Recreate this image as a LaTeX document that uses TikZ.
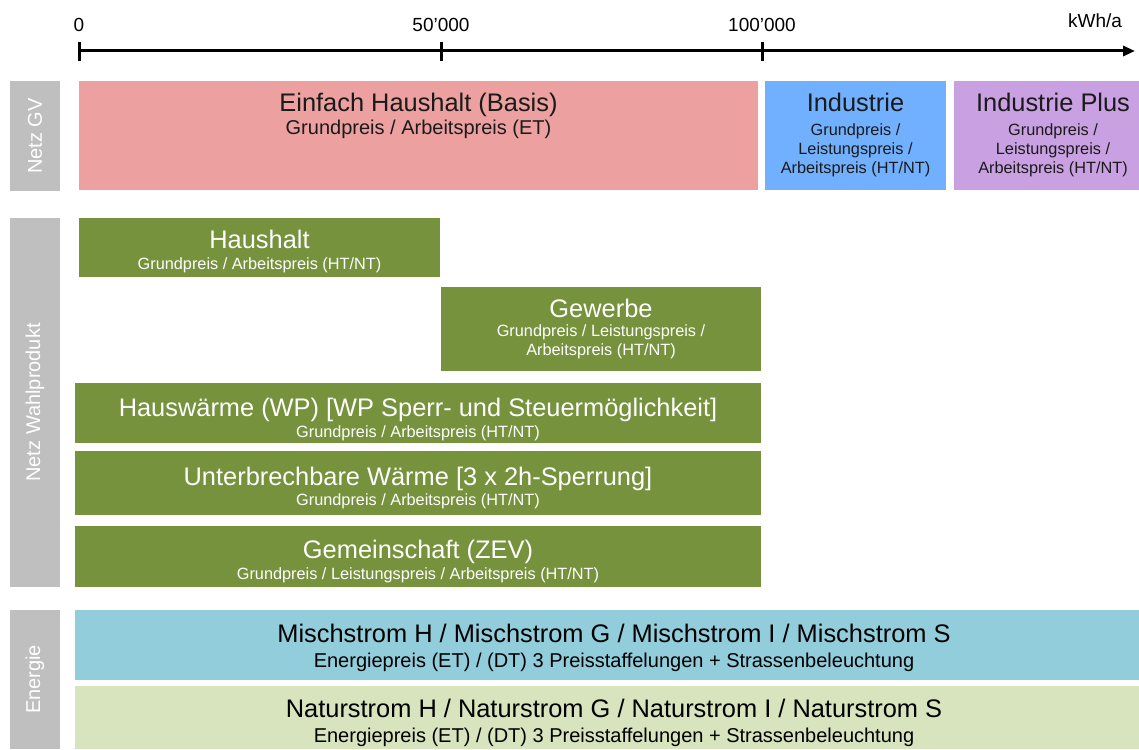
\documentclass[tikz,border=0pt]{standalone}
\usepackage{fontspec}
\setmainfont{Liberation Sans}
\usepackage{tikz}
\usetikzlibrary{arrows.meta}
\usetikzlibrary{positioning}
\definecolor{grau}{HTML}{BFBFBF}
\definecolor{rosa}{HTML}{ECA1A0}
\definecolor{hellblau}{HTML}{71B0FE}
\definecolor{lila}{HTML}{C9A0E2}
\definecolor{gruen}{HTML}{76923C}
\definecolor{tuerkis}{HTML}{92CDDC}
\definecolor{hellgruen}{HTML}{D7E4BD}
\definecolor{schrift}{HTML}{1A1A1A}
\newcommand{\tarifbox}[6]{\node[feld, fill=#2, minimum width={(#5-#3)*1pt},
  minimum height={(#6-#4)*1pt}] (#1) at ({(#3+#5)/2},{(#4+#6)/2}) {};}
\tikzstyle{feld}=[draw=none, inner sep=0pt, outer sep=0pt]
\tikzstyle{titel}=[anchor=base, inner sep=0pt, font=\fontsize{25.4}{30}\selectfont]
\tikzstyle{unter}=[anchor=base, inner sep=0pt, align=center, font=\fontsize{16.3}{19}\selectfont]
\tikzstyle{untergross}=[anchor=base, inner sep=0pt, font=\fontsize{20}{24}\selectfont]
\tikzstyle{seite}=[fill=grau, text=white, rotate=90, inner sep=0pt,
                   font=\fontsize{20}{24}\selectfont]
\tikzstyle{achse}=[line width=3pt, -{Triangle[length=12pt,width=10pt]}]
\tikzstyle{marke}=[line width=3pt]
\tikzstyle{zahl}=[anchor=base, inner sep=0pt, font=\fontsize{19}{23}\selectfont]

\begin{document}
\begin{tikzpicture}[x=1pt,y=-1pt]
\useasboundingbox (0,0) rectangle (1139,749);

% Achse
\coordinate (null) at (79,51);
\coordinate (ende) at (1135,51);
\draw[achse] (null) -- (ende);
\foreach \x/\lab/\n in {79/0/a, 441/50'000/b, 762/100'000/c} {
  \draw[marke] (\x,42) -- (\x,61);
  \node[zahl] (zahl-\n) at (\x,32) {\lab};
}
\node[zahl] (einheit) at (1095,28) {kWh/a};

% Seitenbalken
\node[seite, minimum width=110pt, minimum height=50pt] (gv) at (35,136) {Netz GV};
\node[seite, minimum width=369pt, minimum height=50pt] (wahl) at (35,402.5) {Netz Wahlprodukt};
\node[seite, minimum width=139pt, minimum height=50pt] (energie) at (35,679.5) {Energie};

% Netz GV
\tarifbox{einfach}{rosa}{79}{81}{758}{190}
\tarifbox{industrie}{hellblau}{765}{81}{946}{190}
\tarifbox{plus}{lila}{954}{81}{1139}{190}
\node[titel, text=schrift] (einfach-t) at (418.5,112) {Einfach Haushalt (Basis)};
\node[untergross, text=schrift] (einfach-u) at (418.5,135) {Grundpreis / Arbeitspreis (ET)};
\node[titel, text=schrift] (industrie-t) at (855.5,112) {Industrie};
\node[unter, anchor=center, text=schrift] (industrie-u) at (855.5,150)
  {Grundpreis /\\Leistungspreis /\\Arbeitspreis (HT/NT)};
\node[titel, text=schrift] (plus-t) at (1053,112) {Industrie Plus};
\node[unter, anchor=center, text=schrift] (plus-u) at (1053,150)
  {Grundpreis /\\Leistungspreis /\\Arbeitspreis (HT/NT)};

% Netz Wahlprodukt
\tarifbox{haushalt}{gruen}{79}{218}{440}{277}
\tarifbox{gewerbe}{gruen}{441}{287}{761}{371}
\tarifbox{waerme}{gruen}{75}{383}{761}{443}
\tarifbox{unterbr}{gruen}{75}{451}{761}{515}
\tarifbox{zev}{gruen}{75}{526}{761}{587}
\node[titel, text=white] (haushalt-t) at (259.5,248) {Haushalt};
\node[unter, text=white] (haushalt-u) at (259.5,269) {Grundpreis / Arbeitspreis (HT/NT)};
\node[titel, text=white] (gewerbe-t) at (601,317) {Gewerbe};
\node[unter, anchor=center, text=white] (gewerbe-u) at (601,342)
  {Grundpreis / Leistungspreis /\\Arbeitspreis (HT/NT)};
\node[titel, text=white] (waerme-t) at (418,416) {Hauswärme (WP) [WP Sperr- und Steuermöglichkeit]};
\node[unter, text=white] (waerme-u) at (418,437) {Grundpreis / Arbeitspreis (HT/NT)};
\node[titel, text=white] (unterbr-t) at (418,485) {Unterbrechbare Wärme [3 x 2h-Sperrung]};
\node[unter, text=white] (unterbr-u) at (418,505) {Grundpreis / Arbeitspreis (HT/NT)};
\node[titel, text=white] (zev-t) at (418,558) {Gemeinschaft (ZEV)};
\node[unter, text=white] (zev-u) at (418,579) {Grundpreis / Leistungspreis / Arbeitspreis (HT/NT)};

% Energie
\tarifbox{misch}{tuerkis}{75}{610}{1139}{680}
\tarifbox{natur}{hellgruen}{75}{686}{1139}{749}
\node[titel] (misch-t) at (614,642) {Mischstrom H / Mischstrom G / Mischstrom I / Mischstrom S};
\node[untergross] (misch-u) at (614,667) {Energiepreis (ET) / (DT) 3 Preisstaffelungen + Strassenbeleuchtung};
\node[titel] (natur-t) at (614,717) {Naturstrom H / Naturstrom G / Naturstrom I / Naturstrom S};
\node[untergross] (natur-u) at (614,742) {Energiepreis (ET) / (DT) 3 Preisstaffelungen + Strassenbeleuchtung};
\end{tikzpicture}
\end{document}
